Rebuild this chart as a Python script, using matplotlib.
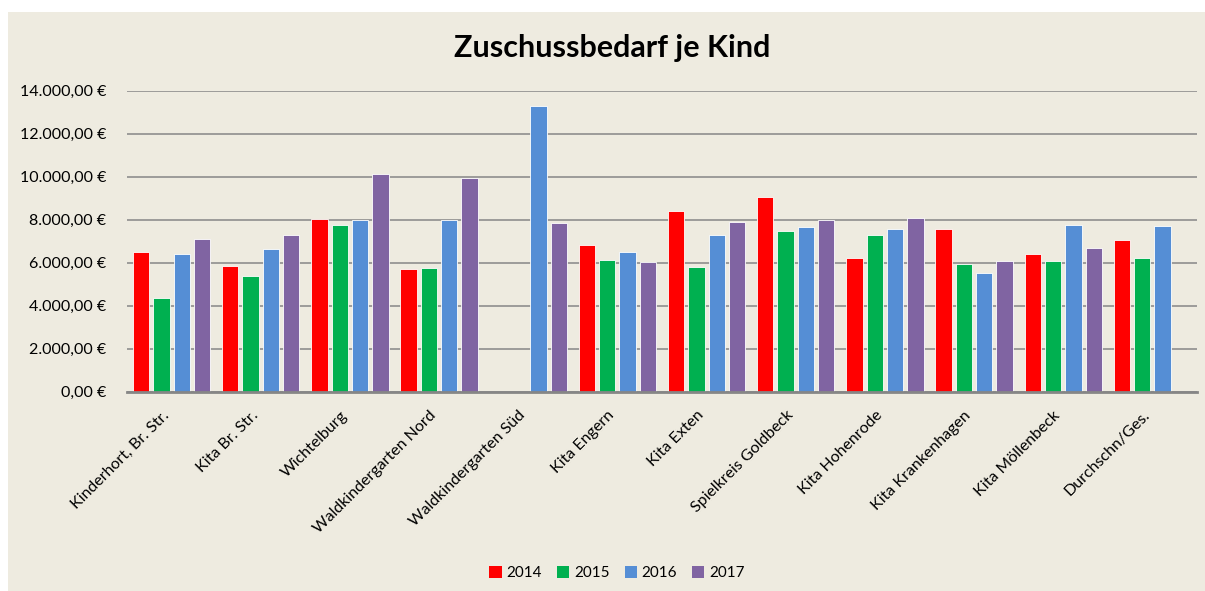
import numpy as np
import matplotlib
matplotlib.use("Agg")
from matplotlib import pyplot as plt
from matplotlib.patches import Rectangle, Patch
from matplotlib.ticker import FuncFormatter
from matplotlib.transforms import ScaledTranslation

plt.rcParams['font.family'] = ['Lato', 'DejaVu Sans']

########## DATA
categories = ["Kinderhort, Br. Str.", "Kita Br. Str.", "Wichtelburg", "Waldkindergarten Nord",
              "Waldkindergarten Süd", "Kita Engern", "Kita Exten", "Spielkreis Goldbeck",
              "Kita Hohenrode", "Kita Krankenhagen", "Kita Möllenbeck", "Durchschn/Ges."]
years = ["2014", "2015", "2016", "2017"]
v2014 = [6510, 5830, 8015, 5710, np.nan, 6820, 8420, 9050, 6200, 7550, 6390, 7050]
v2015 = [4340, 5380, 7760, 5770, np.nan, 6110, 5810, 7460, 7300, 5950, 6080, 6200]
v2016 = [6390, 6640, 8000, 7970, 13300, 6510, 7290, 7640, 7550, 5520, 7750, 7690]
v2017 = [7090, 7300, 10110, 9940, 7840, 6020, 7890, 7980, 8060, 6080, 6670, np.nan]
colors = ["#FF0000", "#00B050", "#558ED5", "#8064A2"]

########## PLOT
fig = plt.figure(figsize=(12.05, 5.91), dpi=100)
fig.patch.set_facecolor("white")
bg = "#EEEBE0"
fig.patches.append(Rectangle((8 / 1205, 0), 1 - 8 / 1205, 1 - 12 / 591,
                             transform=fig.transFigure, facecolor=bg, edgecolor="none", zorder=-10))

ax = fig.add_axes([127 / 1205, 199.3 / 591, 1070 / 1205, 301 / 591])
ax.set_facecolor(bg)

x = np.arange(len(categories))
step = 0.228
width = 0.183
for i, (vals, c) in enumerate(zip([v2014, v2015, v2016, v2017], colors)):
    ax.bar(x + (i - 1.5) * step, vals, width, color=c, edgecolor="white",
           linewidth=0.6, zorder=3)

ax.set_xlim(-0.5, len(categories) - 0.5)
ax.set_ylim(0, 14000)
ax.set_yticks(np.arange(0, 14001, 2000))
ax.yaxis.set_major_formatter(FuncFormatter(
    lambda v, p: "{:,.2f} €".format(v).replace(",", "X").replace(".", ",").replace("X", ".")))
ax.grid(axis="y", color="#868686", linewidth=1.1, zorder=1)
for s in ["top", "right", "left"]:
    ax.spines[s].set_visible(False)
ax.spines["bottom"].set_color("#868686")
ax.spines["bottom"].set_linewidth(2)
ax.spines["bottom"].set_zorder(4)
ax.tick_params(axis="y", length=0, pad=15, labelsize=11.5)
ax.tick_params(axis="x", length=0, pad=12, labelsize=11.5)
ax.set_xticks(x)
ax.set_xticklabels(categories, rotation=45, ha="right", va="top", rotation_mode="anchor")
shift = ScaledTranslation(-10 / 100, 0, fig.dpi_scale_trans)
for lbl in ax.get_xticklabels():
    lbl.set_transform(lbl.get_transform() + shift)

fig.text(0.508, 1 - 48 / 591, "Zuschussbedarf je Kind", ha="center", va="center",
         fontsize=22, fontweight="bold")

handles = [Patch(facecolor=c, edgecolor="none") for c in colors]
fig.legend(handles, years, loc="center", bbox_to_anchor=(617 / 1205, 1 - 573 / 591),
           ncol=4, frameon=False, fontsize=11, handlelength=0.8, handleheight=0.8,
           handletextpad=0.3, columnspacing=1.0)

fig.savefig("out.png", dpi=100, facecolor=fig.get_facecolor())
